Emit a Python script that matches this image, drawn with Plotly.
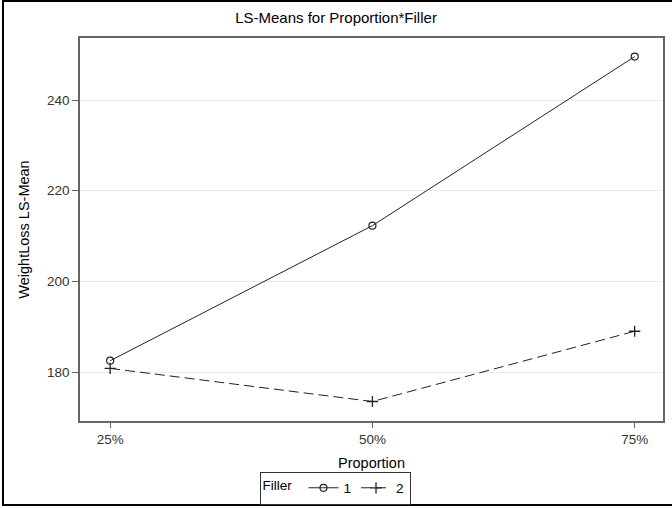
import plotly.graph_objects as go

proportions = ["25%", "50%", "75%"]
filler_1 = [182.5, 212.3, 249.6]
filler_2 = [180.8, 173.5, 189.0]
y_ticks = [180, 200, 220, 240]

W, H = 672, 508
L, R, T, B = 80, 9, 38, 87

fig = go.Figure()
fig.add_trace(go.Scatter(
    x=proportions, y=filler_1, name="1", mode="lines+markers",
    line=dict(color="#222222", width=1),
    marker=dict(symbol="circle-open", size=7, color="#222222", line=dict(width=1.2)),
))
fig.add_trace(go.Scatter(
    x=proportions, y=filler_2, name="2", mode="lines+markers",
    line=dict(color="#222222", width=1, dash="10px,5px"),
    marker=dict(symbol="cross-thin-open", size=8, color="#222222", line=dict(width=1.3, color="#222222")),
))

pw = W - L - R
ph = H - T - B

fig.update_layout(
    width=W, height=H,
    margin=dict(l=L, r=R, t=T, b=B),
    paper_bgcolor="white", plot_bgcolor="white",
    font=dict(family="Liberation Sans, Arial, sans-serif", size=13, color="#333333"),
    title=dict(text="LS-Means for Proportion*Filler", x=336 / W, xanchor="center", xref="container",
               y=(H - 18) / H, yanchor="middle", yref="container",
               font=dict(size=15, color="#000000")),
    xaxis=dict(type="category", range=[-0.115, 2.108], showgrid=False,
               showline=True, linecolor="#666666", linewidth=1.5, mirror=True,
               ticks="outside", ticklen=5, tickcolor="#666666", automargin=False,
               title=dict(text="Proportion", standoff=13, font=dict(size=14.5, color="#000000")),
               tickfont=dict(size=13.5, color="#333333"), zeroline=False),
    yaxis=dict(range=[169.2, 253.7], tickvals=y_ticks, showgrid=True, gridcolor="#ececec",
               showline=True, linecolor="#666666", linewidth=1.5, mirror=True,
               ticks="outside", ticklen=6, tickcolor="#666666", automargin=False,
               title=dict(text="WeightLoss LS-Mean", standoff=14, font=dict(size=14.5, color="#000000")),
               tickfont=dict(size=13.5, color="#333333"), zeroline=False),
    legend=dict(orientation="h", xref="container", yref="container",
                x=335 / W, xanchor="center",
                y=(H - 488) / H, yanchor="middle",
                bordercolor="#333333", borderwidth=1, bgcolor="white",
                title=dict(text="Filler ", font=dict(size=13.5, color="#000000")),
                font=dict(size=13.5, color="#000000"),
                itemwidth=30, tracegroupgap=0),
    showlegend=True,
    shapes=[dict(type="rect", xref="paper", yref="paper",
                 x0=(3 - L) / pw, x1=(W + 5 - L) / pw,
                 y0=(H - B - 505) / ph, y1=(H - B - 1) / ph,
                 line=dict(color="#000000", width=2), fillcolor="rgba(0,0,0,0)", layer="below")],
)

fig.write_html("out.html")
